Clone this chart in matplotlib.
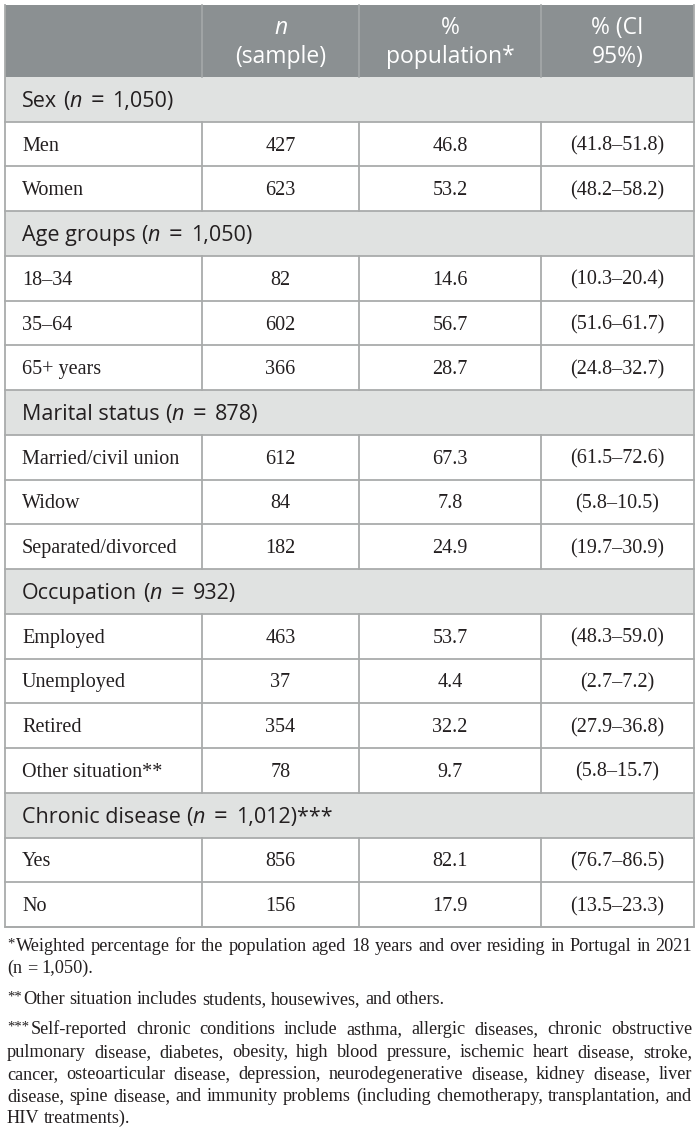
import matplotlib.pyplot as plt
from matplotlib.patches import Rectangle

# ---- data ----
col_heads = [["n", "(sample)"], ["%", "population*"], ["% (CI", "95%)"]]

sections = ["Sex", "Age groups", "Marital status", "Occupation", "Chronic disease"]
section_n = ["1,050", "1,050", "878", "932", "1,012"]
section_mark = ["", "", "", "", "***"]

row_labels = [
    ["Men", "Women"],
    ["18–34", "35–64", "65+ years"],
    ["Married/civil union", "Widow", "Separated/divorced"],
    ["Employed", "Unemployed", "Retired", "Other situation**"],
    ["Yes", "No"],
]
sample_n = [[427, 623], [82, 602, 366], [612, 84, 182], [463, 37, 354, 78], [856, 156]]
pop_pct = [[46.8, 53.2], [14.6, 56.7, 28.7], [67.3, 7.8, 24.9],
           [53.7, 4.4, 32.2, 9.7], [82.1, 17.9]]
ci_low = [[41.8, 48.2], [10.3, 51.6, 24.8], [61.5, 5.8, 19.7],
          [48.3, 2.7, 27.9, 5.8], [76.7, 13.5]]
ci_high = [[51.8, 58.2], [20.4, 61.7, 32.7], [72.6, 10.5, 30.9],
           [59.0, 7.2, 36.8, 15.7], [86.5, 23.3]]

notes = [
    ("*", "Weighted percentage for the population aged 18 years and over residing in Portugal in 2021", True),
    ("", "(n = 1,050).", False),
    ("**", "Other situation includes students, housewives, and others.", False),
    ("***", "Self-reported chronic conditions include asthma, allergic diseases, chronic obstructive", True),
    ("", "pulmonary disease, diabetes, obesity, high blood pressure, ischemic heart disease, stroke,", True),
    ("", "cancer, osteoarticular disease, depression, neurodegenerative disease, kidney disease, liver", True),
    ("", "disease, spine disease, and immunity problems (including chemotherapy, transplantation, and", True),
    ("", "HIV treatments).", False),
]

# ---- style ----
W, H = 700, 1140
xs = [5, 202, 359, 541, 694]
top, head_bot, tab_bot = 5, 77, 927
n_rows = len(sections) + sum(len(r) for r in row_labels)
rh = (tab_bot - head_bot) / n_rows

head_bg = "#8b9092"
sec_bg = "#e0e2e1"
line_c = "#a9abab"
txt_c = "#231f20"
serif = "Liberation Serif"
sans = "Open Sans"

fig = plt.figure(figsize=(W / 100, H / 100), dpi=100)
ax = fig.add_axes([0, 0, 1, 1])
ax.set_xlim(0, W)
ax.set_ylim(H, 0)
ax.axis("off")
renderer = fig.canvas.get_renderer()


def text_w(s, **kw):
    t = ax.text(0, 0, s, **kw)
    w = t.get_window_extent(renderer).width
    t.remove()
    return w


def draw_runs(x, y, runs, **kw):
    # runs: (text, extra style, gap after in px)
    for s, extra, pad in runs:
        opts = dict(kw)
        opts.update(extra)
        t = ax.text(x, y, s, va="baseline", ha="left", **opts)
        x += t.get_window_extent(renderer).width + pad
    return x


# header
ax.add_patch(Rectangle((xs[0], top), xs[-1] - xs[0], head_bot - top,
                       facecolor=head_bg, edgecolor="none"))
for xv in xs[1:-1]:
    ax.plot([xv, xv], [top, head_bot], color="#a5a9aa", lw=1.2)
for j, (l1, l2) in enumerate(col_heads):
    cx = (xs[j + 1] + xs[j + 2]) / 2
    st = "italic" if l1 == "n" else "normal"
    ax.text(cx, 28, l1, ha="center", va="center", color="white",
            family=sans, fontsize=16.5, style=st)
    ax.text(cx, 57, l2, ha="center", va="center", color="white",
            family=sans, fontsize=16.5)

# body
sec_fs = 15.5
sp = text_w("a a", family=sans, fontsize=sec_fs) - text_w("aa", family=sans, fontsize=sec_fs)
y = head_bot
for k, sec in enumerate(sections):
    ax.add_patch(Rectangle((xs[0], y), xs[-1] - xs[0], rh,
                           facecolor=sec_bg, edgecolor="none"))
    base = y + rh / 2 + 7.5
    draw_runs(22, base, [(sec, {}, sp), ("(", {}, 0),
                         ("n", {"style": "italic"}, sp + 3),
                         ("=", {"fontsize": sec_fs + 1.5}, sp + 3),
                         (section_n[k] + ")" + section_mark[k], {}, 0)],
              family=sans, fontsize=sec_fs, color=txt_c)
    ax.plot([xs[0], xs[-1]], [y + rh, y + rh], color=line_c, lw=1.3)
    y += rh
    for i, lab in enumerate(row_labels[k]):
        yc = y + rh / 2
        b = yc + 6.5
        ax.text(22, b, lab, ha="left", va="baseline", family=serif,
                fontsize=14.5, color=txt_c)
        vals = [str(sample_n[k][i]), f"{pop_pct[k][i]:.1f}",
                f"({ci_low[k][i]:.1f}–{ci_high[k][i]:.1f})"]
        for j, v in enumerate(vals):
            cx = (xs[j + 1] + xs[j + 2]) / 2
            ax.text(cx, b, v, ha="center", va="baseline", family=serif,
                    fontsize=14.5, color=txt_c)
        for xv in xs[1:-1]:
            ax.plot([xv, xv], [y, y + rh], color=line_c, lw=1.3)
        ax.plot([xs[0], xs[-1]], [y + rh, y + rh], color=line_c, lw=1.3)
        y += rh

# outer border
ax.plot([xs[0], xs[0], xs[-1], xs[-1]], [top, tab_bot, tab_bot, top],
        color=line_c, lw=1.3)

# footnotes (justified)
note_base = [951, 973, 1004, 1034, 1057, 1079, 1101, 1123]
left, right = 7, 692
# pick the size so the tightest line (line 7) just fills the width
probe = text_w(notes[6][1], family=serif, fontsize=10)
fs = 10 * (right - left - 2) / probe
for (mark, line, just), b in zip(notes, note_base):
    words = line.split(" ")
    mark_w = text_w(mark, family=serif, fontsize=fs * 0.8) + (1.5 if mark else 0)
    ws = [text_w(w, family=serif, fontsize=fs) for w in words]
    if just:
        gap = (right - left - mark_w - sum(ws)) / (len(words) - 1)
    else:
        gap = text_w("a a", family=serif, fontsize=fs) - text_w("aa", family=serif, fontsize=fs)
    x = left
    if mark:
        ax.text(x, b - 3, mark, ha="left", va="baseline", family=serif,
                fontsize=fs * 0.8, color=txt_c)
        x += mark_w
    for w, wd in zip(words, ws):
        ax.text(x, b, w, ha="left", va="baseline", family=serif,
                fontsize=fs, color=txt_c)
        x += wd + gap

fig.savefig("out.png", dpi=100, facecolor="white")
